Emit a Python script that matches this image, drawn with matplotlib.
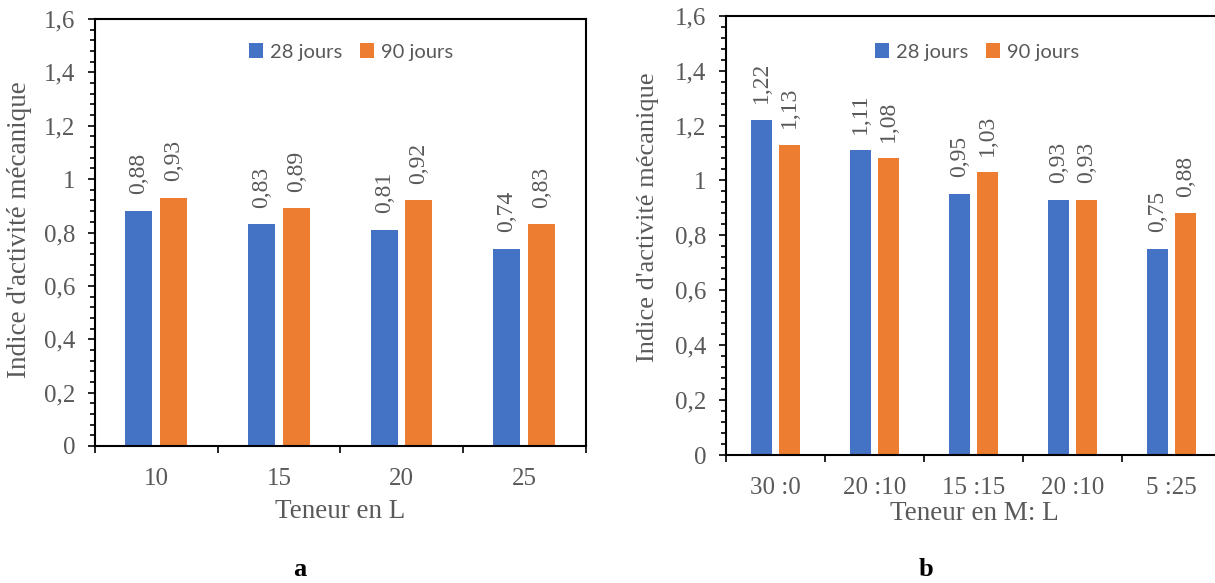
import numpy as np
import matplotlib.pyplot as plt
from matplotlib.ticker import MultipleLocator, FuncFormatter

W, H = 1215, 583

# panel a: content in L
teneur_l = ['10', '15', '20', '25']
l_28 = [0.88, 0.83, 0.81, 0.74]
l_90 = [0.93, 0.89, 0.92, 0.83]

# panel b: content M:L
teneur_ml = ['30 :0', '20 :10', '15 :15', '20 :10', '5 :25']
ml_28 = [1.22, 1.11, 0.95, 0.93, 0.75]
ml_90 = [1.13, 1.08, 1.03, 0.93, 0.88]

BLUE = '#4472C4'
ORANGE = '#ED7D31'
GREY = '#595959'
SERIF = 'Liberation Serif'


def comma(v, pos=None):
    return f'{v:g}'.replace('.', ',')


def px_box(x0, y0, x1, y1):
    # figure-fraction box from pixel edges (top-left origin)
    return [x0 / W, 1 - y1 / H, (x1 - x0) / W, (y1 - y0) / H]


def bar_panel(ax, cats, s28, s90, legend_x):
    n = len(cats)
    x = np.arange(n)
    w = 0.22
    b1 = ax.bar(x - 0.142, s28, w, color=BLUE, label='28 jours')
    b2 = ax.bar(x + 0.142, s90, w, color=ORANGE, label='90 jours')
    for bars in (b1, b2):
        ax.bar_label(bars, labels=[comma(v) for v in bars.datavalues],
                     rotation=90, padding=12, fontsize=17,
                     family=SERIF, color=GREY)

    ax.set_xlim(-0.5, n - 0.5)
    ax.set_ylim(0, 1.6)
    ax.yaxis.set_major_locator(MultipleLocator(0.2))
    ax.yaxis.set_minor_locator(MultipleLocator(0.04))
    ax.yaxis.set_major_formatter(FuncFormatter(comma))

    ax.set_xticks(x)
    ax.set_xticklabels(cats)
    ax.set_xticks(np.arange(n + 1) - 0.5, minor=True)

    ax.tick_params(axis='x', which='major', length=0, pad=16)
    ax.tick_params(axis='x', which='minor', length=5, width=1.2, direction='out')
    ax.tick_params(axis='y', which='major', length=5, width=1.2, pad=9)
    ax.tick_params(axis='y', which='minor', length=3.5, width=1.2)
    for lab in ax.get_xticklabels() + ax.get_yticklabels():
        lab.set_fontfamily(SERIF)
        lab.set_fontsize(18)
        lab.set_color(GREY)

    for sp in ax.spines.values():
        sp.set_linewidth(1.5)
        sp.set_color('black')

    ax.legend(loc='center', bbox_to_anchor=(legend_x / W, 1 - 52 / H),
              bbox_transform=ax.figure.transFigure, ncol=2, frameon=False,
              prop={'family': 'Lato', 'size': 14.5}, labelcolor=GREY,
              handlelength=0.7, handleheight=0.7, handletextpad=0.35,
              columnspacing=0.9)


fig = plt.figure(figsize=(W / 100, H / 100), dpi=100)

ax_a = fig.add_axes(px_box(95, 19, 585.5, 446))
bar_panel(ax_a, teneur_l, l_28, l_90, 351)

ax_b = fig.add_axes(px_box(726, 15.7, 1221, 455))
bar_panel(ax_b, teneur_ml, ml_28, ml_90, 977)


def ftext(x, y, s, **kw):
    fig.text(x / W, 1 - y / H, s, ha='center', va='center', **kw)


ftext(340, 512, 'Teneur en L', fontsize=19.5, family=SERIF, color=GREY)
ftext(974, 513, 'Teneur en M: L', fontsize=19.5, family=SERIF, color=GREY)
ftext(20, 230, "Indice d'activité mécanique", rotation=90, fontsize=19.5,
      family=SERIF, color=GREY)
ftext(648, 217, "Indice d'activité mécanique", rotation=90, fontsize=19,
      family=SERIF, color=GREY)
ftext(300, 570, 'a', fontsize=19, family=SERIF, fontweight='bold')
ftext(926, 570, 'b', fontsize=19, family=SERIF, fontweight='bold')

fig.savefig('out.png', dpi=100)
